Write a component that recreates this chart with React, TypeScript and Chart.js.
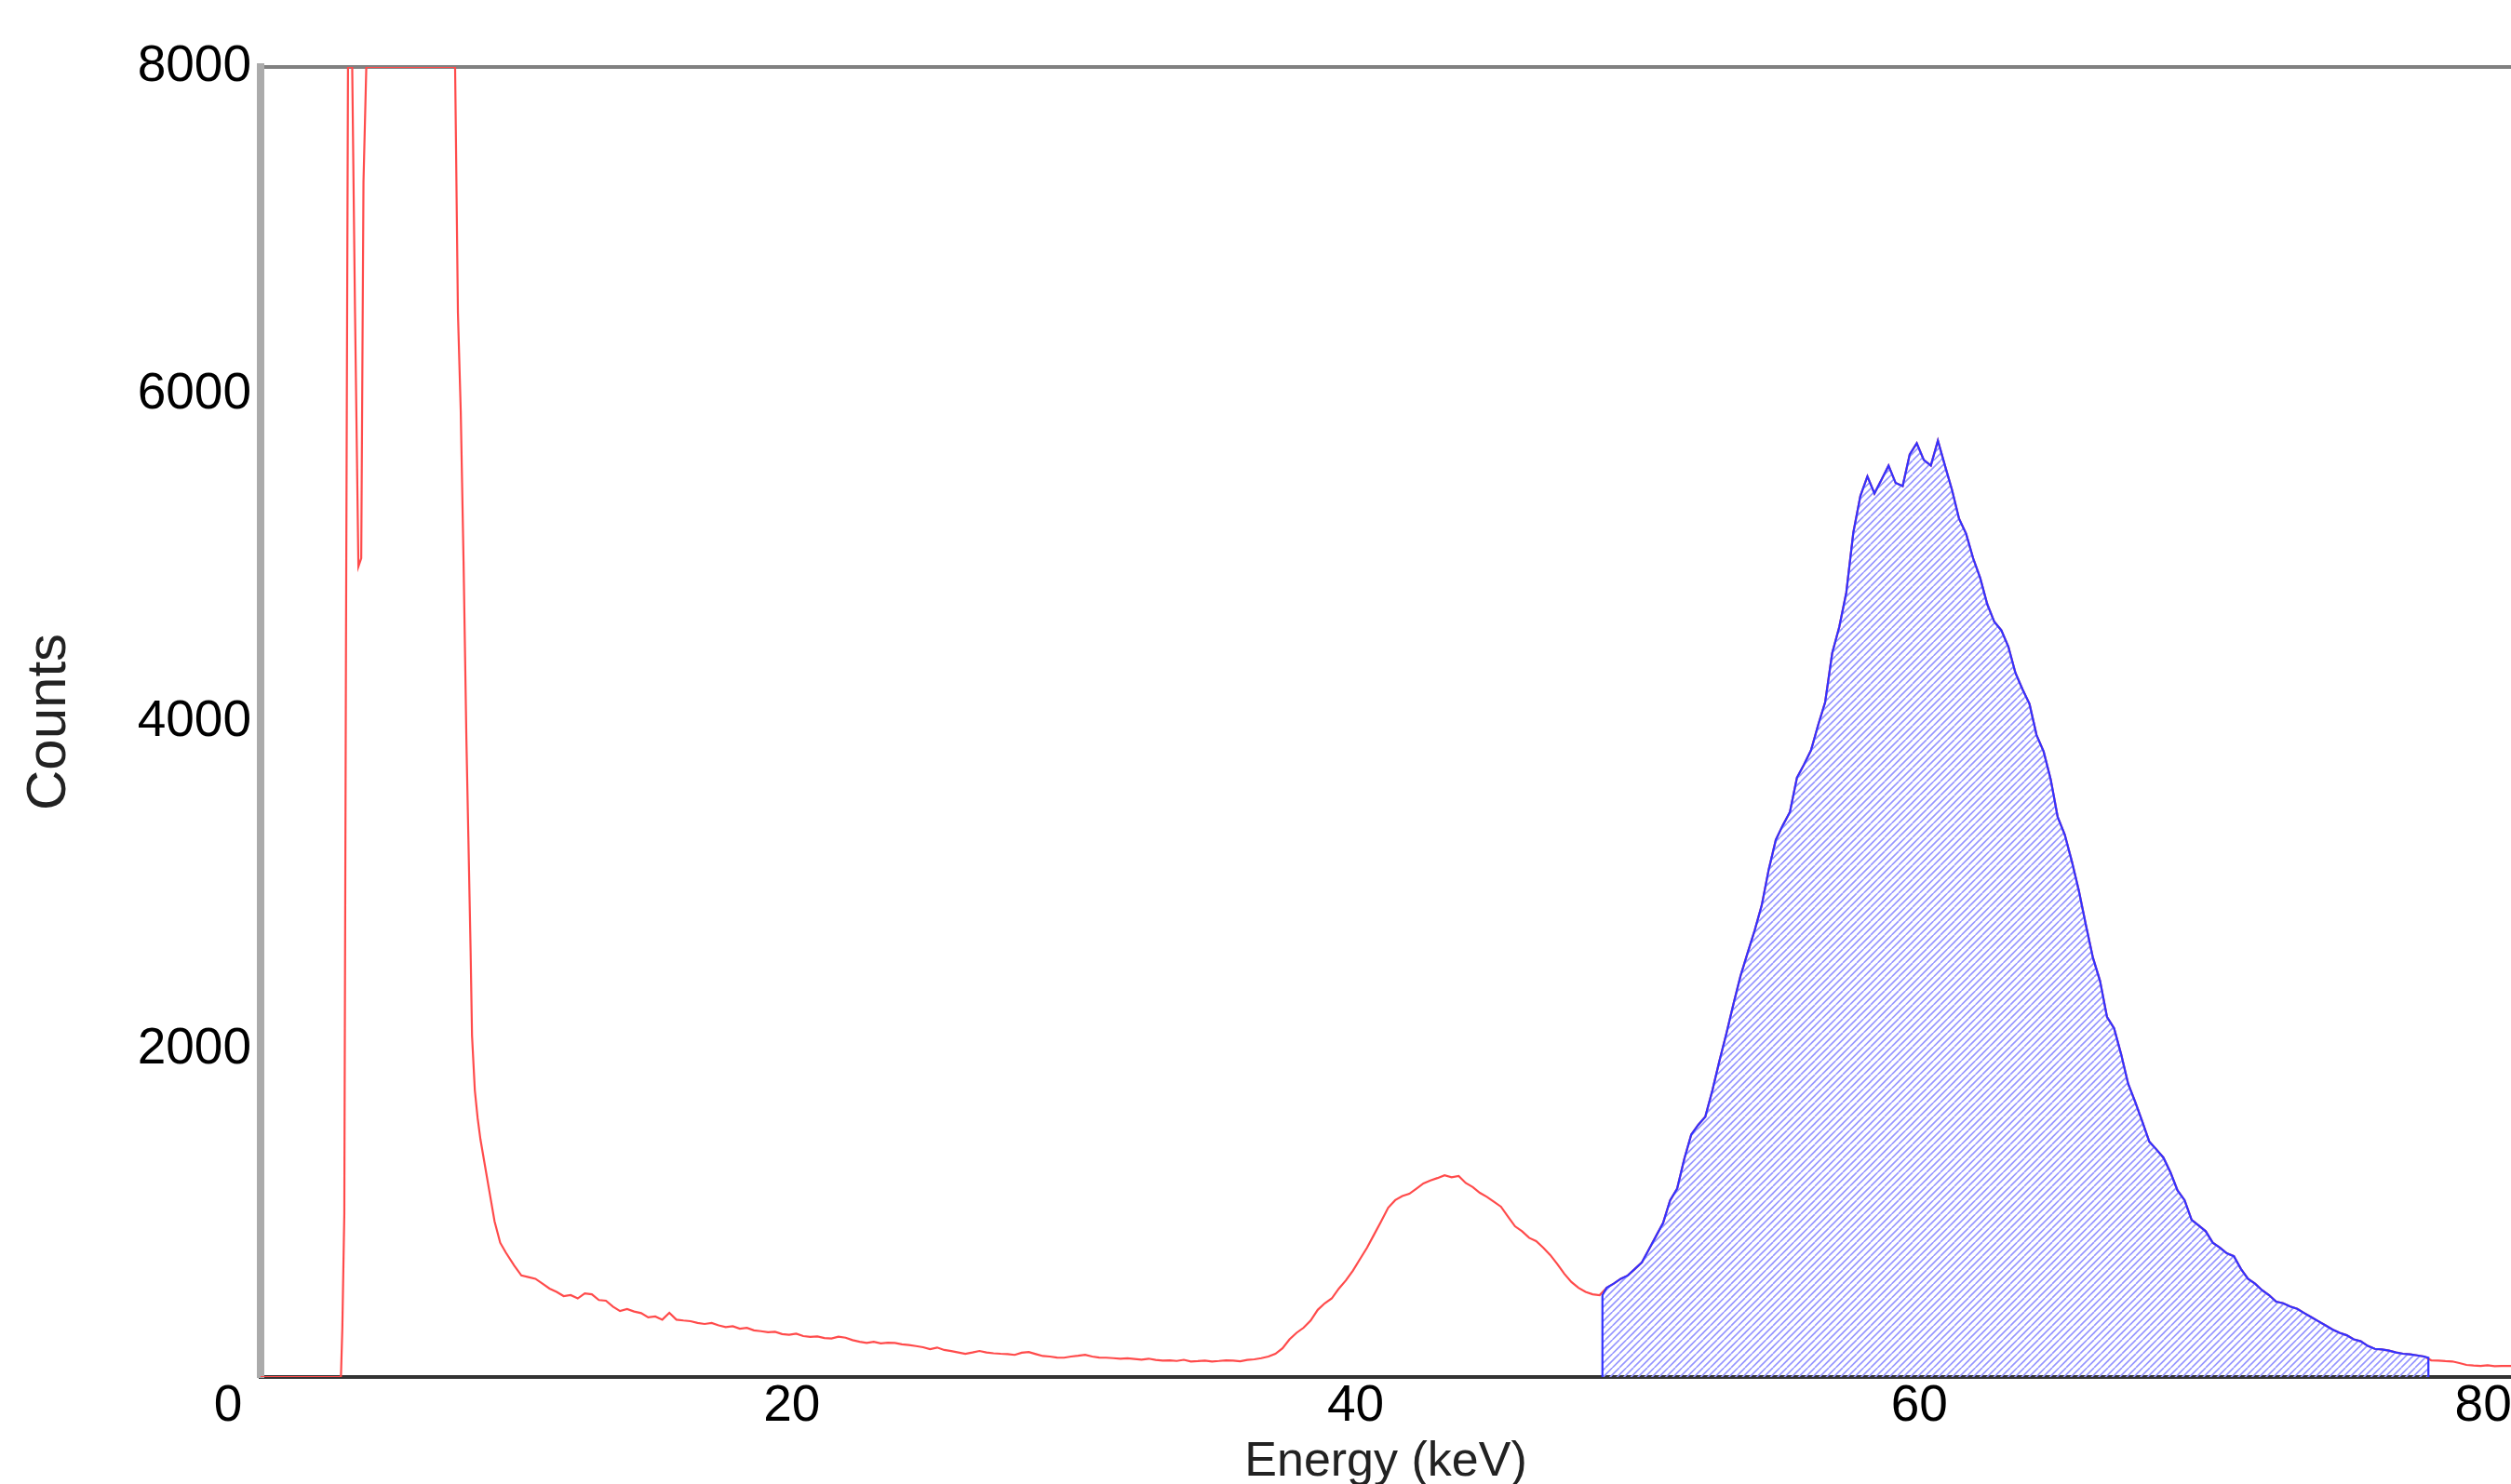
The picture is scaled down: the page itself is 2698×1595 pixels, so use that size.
import React, { useEffect, useRef } from 'react';
import { Chart, registerables } from 'chart.js';

Chart.register(...registerables);

// ---- axes ----
const X_TICKS = [0, 20, 40, 60, 80];
const X_MIN = 0;
const X_MAX = 79.83;
const Y_MIN = 0;
const Y_MAX = 8000;
const Y_STEP = 2000;
const X_TITLE = 'Energy (keV)';
const Y_TITLE = 'Counts';

// ---- low-energy part of the spectrum (keV, counts), saturated at 8000 ----
const lowEnergyKeV = [0, 2.85, 2.9, 2.97, 3.03, 3.1, 3.25, 3.35, 3.47, 3.57, 3.65, 3.75, 6.9, 7.0, 7.1, 7.2, 7.3, 7.37, 7.45, 7.5, 7.6, 7.7, 7.8, 7.95, 8.1, 8.3, 8.5, 8.7];
const lowEnergyCounts = [0, 0, 300, 1000, 4500, 8000, 8000, 6500, 4950, 5000, 7300, 8000, 8000, 6500, 5900, 4980, 3900, 3300, 2600, 2085, 1750, 1580, 1450, 1300, 1150, 950, 820, 760];

// ---- rest of the spectrum: one value every 0.25 keV from 9.0 keV ----
const tailStartKeV = 9.0;
const tailStepKeV = 0.25;
const tailCounts = [
  680, 620, 610, 600, // 9
  570, 540, 520, 494, // 10
  500, 480, 511, 505, // 11
  470, 466, 430, 403, // 12
  415, 400, 390, 364, // 13
  370, 350, 392, 350, // 14
  345, 341, 330, 324, // 15
  330, 315, 305, 310, // 16
  295, 300, 285, 280, // 17
  273, 276, 262, 258, // 18
  265, 250, 245, 248, // 19
  238, 235, 246, 240, // 20
  225, 215, 208, 215, // 21
  205, 210, 208, 200, // 22
  195, 189, 182, 170, // 23
  180, 165, 158, 150, // 24
  142, 150, 159, 150, // 25
  145, 142, 140, 135, // 26
  148, 153, 140, 128, // 27
  125, 119, 118, 125, // 28
  130, 136, 125, 119, // 29
  118, 115, 112, 114, // 30
  110, 106, 112, 104, // 31
  100, 102, 98, 105, // 32
  95, 97, 100, 95, // 33
  98, 102, 100, 96, // 34
  104, 108, 115, 125, // 35
  142, 175, 230, 270, // 36
  301, 345, 410, 450, // 37
  480, 540, 590, 650, // 38
  720, 790, 870, 950, // 39
  1034, 1080, 1105, 1119, // 40
  1150, 1182, 1200, 1215, // 41
  1232, 1220, 1228, 1185, // 42
  1160, 1125, 1100, 1070, // 43
  1040, 980, 920, 890, // 44
  850, 830, 790, 745, // 45
  690, 630, 580, 545, // 46
  520, 505, 500, 545, // 47
  570, 600, 620, 660, // 48
  700, 780, 860, 940, // 49
  1079, 1150, 1330, 1480, // 50
  1540, 1590, 1750, 1930, // 51
  2100, 2280, 2450, 2590, // 52
  2727, 2880, 3100, 3280, // 53
  3370, 3450, 3660, 3740, // 54
  3828, 3980, 4120, 4420, // 55
  4580, 4790, 5157, 5380, // 56
  5500, 5396, 5480, 5566, // 57
  5460, 5441, 5634, 5702, // 58
  5600, 5566, 5719, 5566, // 59
  5418, 5242, 5150, 5000, // 60
  4880, 4720, 4612, 4560, // 61
  4460, 4300, 4200, 4110, // 62
  3920, 3820, 3650, 3420, // 63
  3312, 3150, 2970, 2760, // 64
  2560, 2420, 2198, 2130, // 65
  1971, 1790, 1680, 1560, // 66
  1437, 1390, 1340, 1250, // 67
  1140, 1080, 960, 925, // 68
  890, 820, 790, 755, // 69
  738, 660, 600, 570, // 70
  530, 500, 460, 450, // 71
  430, 416, 390, 365, // 72
  340, 315, 290, 270, // 73
  255, 230, 218, 190, // 74
  172, 168, 161, 150, // 75
  142, 138, 132, 125, // 76
  102, 100, 97, 95, // 77
  85, 74, 70, 68, // 78
  72, 66, 68, 68, // 79
];
const endKeV = 79.83;
const endCounts = 68;

// ---- region of interest (blue, hatched) ----
const roiStartKeV = 47.6;
const roiStartCounts = 500;
const roiEndKeV = 76.9;
const roiEndCounts = 118;

const FONT = "'Liberation Sans', Arial, sans-serif";

export default function App() {
  const ref = useRef<HTMLCanvasElement>(null);

  useEffect(() => {
    const canvas = ref.current;
    if (!canvas) return;

    const spectrum: { x: number; y: number }[] = [];
    lowEnergyKeV.forEach((e, i) => spectrum.push({ x: e, y: lowEnergyCounts[i] }));
    tailCounts.forEach((c, i) => spectrum.push({ x: tailStartKeV + i * tailStepKeV, y: c }));
    spectrum.push({ x: endKeV, y: endCounts });

    const roi: { x: number; y: number }[] = [
      { x: roiStartKeV, y: 0 },
      { x: roiStartKeV, y: roiStartCounts },
      ...spectrum.filter((p) => p.x > roiStartKeV && p.x < roiEndKeV),
      { x: roiEndKeV, y: roiEndCounts },
      { x: roiEndKeV, y: 0 },
    ];

    const tile = document.createElement('canvas');
    tile.width = 15;
    tile.height = 15;
    const tctx = tile.getContext('2d')!;
    tctx.strokeStyle = 'rgb(150,150,255)';
    tctx.lineWidth = 1.6;
    for (const x0 of [-15, -7.5, 0, 7.5, 15]) {
      tctx.beginPath();
      tctx.moveTo(x0, 15);
      tctx.lineTo(x0 + 15, 0);
      tctx.stroke();
    }
    const pattern = canvas.getContext('2d')!.createPattern(tile, 'repeat');

    const chart = new Chart(canvas, {
      type: 'line',
      data: {
        datasets: [
          {
            label: 'ROI',
            data: roi,
            borderColor: 'rgb(50,50,255)',
            borderWidth: 2.2,
            backgroundColor: pattern as any,
            fill: 'origin',
            pointRadius: 0,
            tension: 0,
            xAxisID: 'x',
            yAxisID: 'y',
          },
          {
            label: 'Spectrum',
            data: spectrum,
            borderColor: 'rgb(255,75,75)',
            borderWidth: 2.2,
            fill: false,
            pointRadius: 0,
            tension: 0,
            xAxisID: 'x',
            yAxisID: 'y',
          },
        ],
      },
      options: {
        animation: false,
        responsive: false,
        events: [],
        layout: { padding: { top: 72, left: 0, right: 0, bottom: 0 } },
        plugins: { legend: { display: false }, tooltip: { enabled: false } },
        scales: {
          x: {
            type: 'linear',
            position: 'bottom',
            min: X_MIN,
            max: X_MAX,
            grid: { display: false, drawTicks: false },
            border: { display: true, color: '#333333', width: 4 },
            afterBuildTicks: (s: any) => {
              s.ticks = X_TICKS.map((v) => ({ value: v }));
            },
            afterFit: (s: any) => {
              s.height = 115;
              s.paddingLeft = 0;
              s.paddingRight = 0;
            },
            ticks: {
              autoSkip: false,
              maxRotation: 0,
              labelOffset: -35,
              padding: 4,
              color: '#000',
              font: { family: FONT, size: 55, lineHeight: 1 },
            },
            title: {
              display: true,
              text: X_TITLE,
              color: '#222',
              font: { family: FONT, size: 52, lineHeight: 0.8 },
              padding: { top: 0, bottom: 3 },
            },
          },
          xTop: {
            type: 'linear',
            position: 'top',
            min: X_MIN,
            max: X_MAX,
            grid: { display: false, drawTicks: false },
            ticks: { display: false },
            border: { display: true, color: '#808080', width: 4 },
            afterFit: (s: any) => {
              s.height = 0;
              s.paddingLeft = 0;
              s.paddingRight = 0;
            },
          },
          y: {
            type: 'linear',
            position: 'left',
            min: Y_MIN,
            max: Y_MAX,
            grid: { display: false, drawTicks: false },
            border: { display: true, color: '#ababab', width: 8 },
            afterFit: (s: any) => {
              s.width = 280;
            },
            ticks: {
              stepSize: Y_STEP,
              autoSkip: false,
              padding: 10,
              color: '#000',
              font: { family: FONT, size: 55, lineHeight: 1 },
              callback: (v: any) => (Number(v) === 0 ? null : String(v)),
            },
            title: {
              display: true,
              text: Y_TITLE,
              color: '#222',
              font: { family: FONT, size: 60, lineHeight: 1.2 },
              padding: { top: 17, bottom: 0 },
            },
          },
        },
      },
    });

    return () => chart.destroy();
  }, []);

  return (
    <div style={{ position: 'absolute', left: 0, top: 0, width: 2698, height: 1595, background: '#fff' }}>
      <canvas ref={ref} width={2698} height={1595} style={{ display: 'block' }} />
    </div>
  );
}
